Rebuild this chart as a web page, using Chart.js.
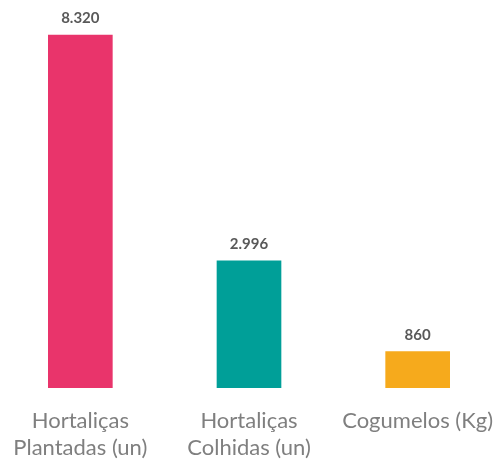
<!DOCTYPE html>
<html><head><meta charset="utf-8">
<script src="https://cdn.jsdelivr.net/npm/chart.js@4/dist/chart.umd.min.js"></script>
<style>
html,body{margin:0;padding:0;background:#fff;overflow:hidden;}
#wrap{position:absolute;left:-4px;top:0;width:506px;height:462px;}
</style></head>
<body><div id="wrap"><canvas id="c"></canvas></div>
<script>
const categories = [["Hortaliças","Plantadas (un)"],["Hortaliças","Colhidas (un)"],"Cogumelos (Kg)"];
const values = [8320, 2996, 860];
const barColors = ["#E9346B","#009F98","#F6AA1C"];

function fmt(v){ return String(v).replace(/\B(?=(\d{3})+(?!\d))/g, "."); }

const valueLabels = {
  id:'valueLabels',
  afterDatasetsDraw(chart){
    const ctx = chart.ctx;
    const meta = chart.getDatasetMeta(0);
    ctx.save();
    ctx.font = "bold 15px Lato";
    ctx.fillStyle = "#595959";
    ctx.textAlign = "center";
    ctx.textBaseline = "alphabetic";
    meta.data.forEach((el,i)=>{
      ctx.fillText(fmt(values[i]), el.x, el.y - 12);
    });
    ctx.restore();
  }
};

new Chart(document.getElementById('c'), {
  type:'bar',
  data:{labels:categories, datasets:[{data:values, backgroundColor:barColors, barThickness:64}]},
  options:{
    responsive:true, maintainAspectRatio:false, animation:false,
    layout:{padding:{top:0,bottom:1,left:0,right:0}},
    plugins:{legend:{display:false}, tooltip:{enabled:false}},
    scales:{
      y:{display:false, min:0, max:9145},
      x:{grid:{display:false}, border:{display:false},
         afterFit(scale){ scale.height = 73; scale.paddingLeft = 0; scale.paddingRight = 0; },
         ticks:{color:"#7F7F7F", font:{family:"Lato", size:22, lineHeight:1.23}, padding:11, maxRotation:0, autoSkip:false}}
    }
  },
  plugins:[valueLabels]
});
</script></body></html>
